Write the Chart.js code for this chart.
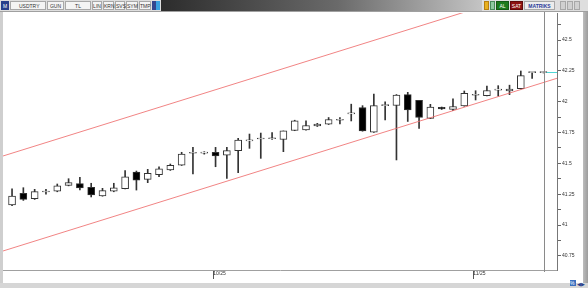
<!DOCTYPE html>
<html>
<head>
<meta charset="utf-8">
<script src="https://cdn.jsdelivr.net/npm/chart.js@4"></script>
<style>
body { margin:0; width:588px; height:288px; overflow:hidden; background:#cfcfcf; position:relative; font-family:Arial, "Liberation Sans", sans-serif; }
#panel { position:absolute; left:3px; top:11px; width:580px; height:272px; background:#fff; }
#rbar { position:absolute; left:583px; top:11px; width:5px; height:277px; background:linear-gradient(90deg,#bdbdbd,#9c9c9c); }
#sbar { position:absolute; left:0; top:283px; width:588px; height:5px; background:#d6d6d6; }
#wrap { position:absolute; left:0; top:0; z-index:1; }
#bar { position:absolute; left:0; top:0; width:588px; height:11px; background:#dedede; border-bottom:1px solid #a0a0a0; z-index:2; }
#bar span { position:absolute; top:1px; height:8px; line-height:8px; font-size:5px; color:#333; text-align:center; background:#f4f4f4; border:1px solid #a8a8a8; box-sizing:border-box; height:9px; }
#grad { position:absolute; left:161px; top:0; width:321px; height:11px; background:linear-gradient(90deg,#2c2c2c,#6a6a6a 55%,#c4c4c4); }
.ico { position:absolute; bottom:1px; height:6px; font-size:5px; line-height:6px; }
</style>
</head>
<body>
<div id="panel"></div>
<div id="rbar"></div>
<div id="sbar"></div>
<div id="bar">
  <span style="left:1px;width:8px;background:#27408b;color:#fff;border-color:#27408b">M</span>
  <span style="left:10px;width:36px;text-align:left;padding-left:8px;">USDTRY</span>
  <span style="left:47px;width:17px">GUN</span>
  <span style="left:65px;width:26px">TL</span>
  <span style="left:92px;width:10px">LIN</span>
  <span style="left:103px;width:11px">KRN</span>
  <span style="left:115px;width:10px">SVS</span>
  <span style="left:126px;width:12px">SYM</span>
  <span style="left:139px;width:12px">TMP</span>
  <span style="left:152px;width:4px;background:#33458f;border-color:#33458f"></span>
  <span style="left:156px;width:4px;background:#3aa0e0;border-color:#3aa0e0"></span>
  <div id="grad"></div>
  <span style="left:484px;width:5px;background:#e8b020;border-color:#b88010"></span>
  <span style="left:490px;width:5px;background:#8fc9a0;border-color:#4a8a5a"></span>
  <span style="left:496px;width:13px;background:#1d7a1d;color:#fff;border-color:#145a14">AL</span>
  <span style="left:510px;width:13px;background:#8c1111;color:#fff;border-color:#600a0a">SAT</span>
  <span style="left:524px;width:31px;background:#ececec;color:#283a9a;font-weight:bold">MATRIKS</span>
  <span style="left:560px;width:6px;background:#d0d0d0"></span>
  <span style="left:567px;width:6px;background:#d0d0d0"></span>
  <span style="left:574px;width:6px;background:#d0d0d0"></span>
</div>
<div class="ico" style="left:570px;top:280px;width:6px;background:#3a6fc0;color:#fff">%</div>
<div class="ico" style="left:577px;top:281px;width:9px;color:#27408b">◀▶</div>
<div id="wrap"><canvas id="myChart" width="588" height="288"></canvas></div>
<script>
// daily USDTRY candles, 5 Sep - 11 Nov 2025
const days = ['09-05','09-08','09-09','09-10','09-11','09-12','09-15','09-16','09-17','09-18','09-19',
  '09-22','09-23','09-24','09-25','09-26','09-29','09-30','10-01','10-02','10-03','10-06','10-07','10-08',
  '10-09','10-10','10-13','10-14','10-15','10-16','10-17','10-20','10-21','10-22','10-23','10-24','10-27',
  '10-28','10-29','10-30','10-31','11-03','11-04','11-05','11-06','11-07','11-10','11-11'];
const opens = [41.163, 41.258, 41.214, 41.268, 41.274, 41.322, 41.336, 41.306, 41.236, 41.274, 41.295, 41.430,
  41.371, 41.409, 41.447, 41.485, 41.582, 41.583, 41.590, 41.566, 41.603, 41.683, 41.698, 41.700,
  41.694, 41.767, 41.772, 41.803, 41.817, 41.850, 41.902, 41.953, 41.754, 41.968, 41.969, 42.058,
  42.011, 41.865, 41.955, 41.938, 41.965, 42.052, 42.048, 42.094, 42.087, 42.105, 42.236, 42.236];
const highs = [41.293, 41.303, 41.290, 41.290, 41.333, 41.376, 41.387, 41.339, 41.298, 41.339, 41.441, 41.438,
  41.452, 41.473, 41.495, 41.590, 41.630, 41.595, 41.630, 41.630, 41.703, 41.738, 41.746, 41.750,
  41.763, 41.850, 41.845, 41.825, 41.872, 41.872, 41.980, 41.968, 42.062, 41.999, 42.058, 42.076,
  42.011, 41.979, 41.957, 42.024, 42.087, 42.089, 42.127, 42.130, 42.134, 42.249, 42.238, 42.240];
const lows = [41.158, 41.200, 41.208, 41.250, 41.270, 41.318, 41.285, 41.228, 41.234, 41.270, 41.293, 41.284,
  41.344, 41.392, 41.443, 41.483, 41.414, 41.575, 41.473, 41.379, 41.425, 41.622, 41.541, 41.694,
  41.595, 41.765, 41.770, 41.799, 41.815, 41.819, 41.844, 41.761, 41.752, 41.852, 41.528, 41.840,
  41.784, 41.863, 41.937, 41.927, 41.963, 42.014, 42.046, 42.046, 42.057, 42.103, 42.188, 42.233];
const closes = [41.236, 41.209, 41.271, 41.272, 41.319, 41.344, 41.301, 41.244, 41.279, 41.303, 41.392, 41.365,
  41.420, 41.455, 41.485, 41.576, 41.585, 41.585, 41.560, 41.603, 41.690, 41.685, 41.702, 41.702,
  41.763, 41.846, 41.807, 41.819, 41.856, 41.852, 41.904, 41.763, 41.968, 41.970, 42.054, 41.933,
  41.872, 41.957, 41.941, 41.961, 42.068, 42.054, 42.091, 42.096, 42.103, 42.212, 42.237, 42.237];

// month separators on the time axis
const monthStart = [18, 41];
const monthText = ['10/25', '11/25'];

// price axis
const yLabels = [40.75, 41, 41.25, 41.5, 41.75, 42, 42.25, 42.5];
const yMinor = [40.875, 41.125, 41.375, 41.625, 41.875, 42.125, 42.375, 42.625];

// regression channel (ends at the left and right edge of the plot)
const channelX = [-0.8, 48.2];
const channelLow = [40.79, 42.19];
const channelHigh = [41.56, 42.96];

const idx = days.map((d, i) => i);
const lastIdx = idx.length - 1;

const cursorLine = {
    id: 'cursorLine',
    afterDatasetsDraw(chart) {
        const c = chart.ctx, a = chart.chartArea;
        const x = Math.round(chart.scales.x.getPixelForValue(lastIdx)) + 1.5;
        const y = Math.round(chart.scales.y.getPixelForValue(closes[lastIdx])) + 0.5;
        c.save();
        c.strokeStyle = '#8a8a8a';
        c.lineWidth = 1;
        c.beginPath(); c.moveTo(x, a.top - 2); c.lineTo(x, a.bottom + 2); c.stroke();
        c.strokeStyle = '#4fd6d6';
        c.beginPath(); c.moveTo(x + 2, y); c.lineTo(a.right, y); c.stroke();
        c.restore();
    }
};

const ctx = document.getElementById('myChart');
new Chart(ctx, {
    type: 'bar',
    data: {
        datasets: [{
            type: 'line',
            data: channelX.map((x, i) => ({x: x, y: channelHigh[i]})),
            borderColor: 'rgba(238,110,110,0.85)',
            borderWidth: 1,
            pointRadius: 0,
            order: 0
        }, {
            type: 'line',
            data: channelX.map((x, i) => ({x: x, y: channelLow[i]})),
            borderColor: 'rgba(238,110,110,0.85)',
            borderWidth: 1,
            pointRadius: 0,
            order: 0
        }, {
            // wicks
            data: idx.map(i => ({x: i, y: [lows[i], highs[i]]})),
            backgroundColor: '#333',
            barThickness: 1,
            grouped: false,
            order: 3
        }, {
            // bodies
            data: idx.map(i => ({x: i, y: [Math.min(opens[i], closes[i]), Math.max(opens[i], closes[i])]})),
            backgroundColor: idx.map(i => closes[i] < opens[i] ? '#000' : '#fff'),
            borderColor: '#333',
            borderWidth: 1,
            borderSkipped: false,
            barThickness: 7,
            minBarLength: 1,
            grouped: false,
            order: 2
        }]
    },
    options: {
        responsive: false,
        animation: false,
        layout: {
            padding: {left: 3, top: 13, right: 0, bottom: 0}
        },
        plugins: {
            legend: {display: false},
            tooltip: {enabled: false}
        },
        scales: {
            x: {
                type: 'linear',
                min: channelX[0],
                max: channelX[1],
                offset: false,
                afterFit: s => { s.height = 18; },
                afterBuildTicks: s => { s.ticks = monthStart.map(v => ({value: v - 0.2})); },
                grid: {drawOnChartArea: false, offset: false, tickLength: 9, tickColor: '#555'},
                border: {color: '#a0a0a0'},
                ticks: {
                    align: 'start',
                    padding: -8,
                    autoSkip: false,
                    maxRotation: 0,
                    color: '#333',
                    font: {size: 5, family: 'Arial'},
                    callback: (v, i) => monthText[i]
                }
            },
            y: {
                type: 'linear',
                position: 'right',
                min: 40.636,
                max: 42.719,
                afterFit: s => { s.width = 31; },
                afterBuildTicks: s => { s.ticks = yLabels.concat(yMinor).sort((a, b) => a - b).map(v => ({value: v})); },
                grid: {drawOnChartArea: false, tickLength: 4, tickColor: '#666'},
                border: {color: '#777'},
                ticks: {
                    padding: 1,
                    color: '#333',
                    font: {size: 5, family: 'Arial'},
                    callback: v => yLabels.includes(v) ? String(v) : ''
                }
            }
        }
    },
    plugins: [cursorLine]
});
</script>
</body>
</html>
